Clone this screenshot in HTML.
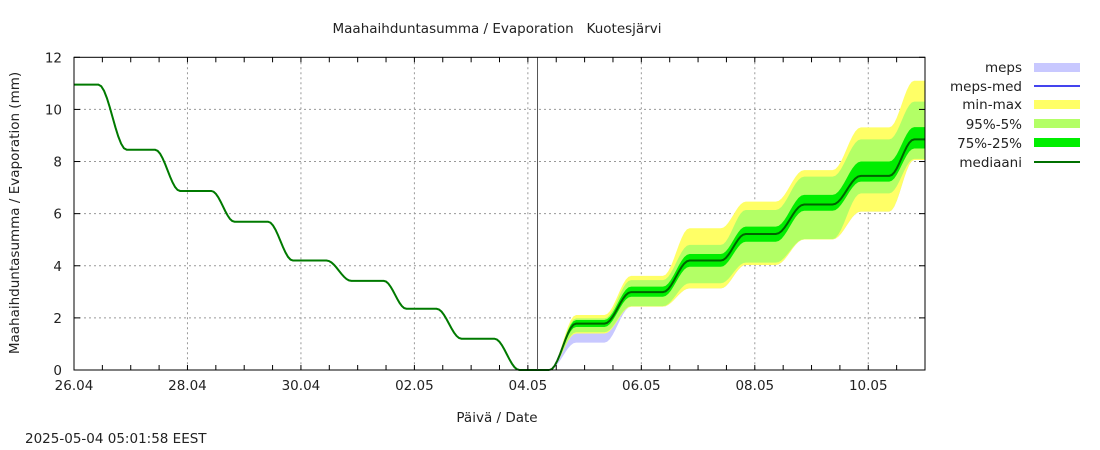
<!DOCTYPE html>
<html><head><meta charset="utf-8"><style>
body{margin:0;background:#fff;}
svg{display:block;font-family:"DejaVu Sans","Liberation Sans",sans-serif;}
</style></head><body>
<svg id="chart" width="1100" height="450" viewBox="0 0 1100 450">
<text x="497" y="33" font-size="13.5" text-anchor="middle" fill="#222" style="white-space:pre">Maahaihduntasumma / Evaporation&#160;&#160;&#160;Kuotesjärvi</text>
<text transform="translate(19,213) rotate(-90)" font-size="13.5" text-anchor="middle" fill="#222">Maahaihduntasumma / Evaporation (mm)</text>
<text x="497" y="422" font-size="13.5" text-anchor="middle" fill="#222">Päivä / Date</text>
<text x="25" y="443" font-size="13.5" fill="#222">2025-05-04 05:01:58 EEST</text>
<g id="grid"></g>
<g id="bands"></g>
<g id="lines"></g>
<g id="axes"></g>
<g id="legend">
<text x="1022" y="72" font-size="13.5" text-anchor="end" fill="#222">meps</text>
<rect x="1034" y="63" width="46" height="9" fill="#c8c8ff"/>
<text x="1022" y="91" font-size="13.5" text-anchor="end" fill="#222">meps-med</text>
<line x1="1034" y1="86" x2="1080" y2="86" stroke="#4444ee" stroke-width="2"/>
<text x="1022" y="109" font-size="13.5" text-anchor="end" fill="#222">min-max</text>
<rect x="1034" y="100" width="46" height="9" fill="#ffff66"/>
<text x="1022" y="129" font-size="13.5" text-anchor="end" fill="#222">95%-5%</text>
<rect x="1034" y="119" width="46" height="9" fill="#b3ff66"/>
<text x="1022" y="148" font-size="13.5" text-anchor="end" fill="#222">75%-25%</text>
<rect x="1034" y="138" width="46" height="9" fill="#00ee00"/>
<text x="1022" y="167" font-size="13.5" text-anchor="end" fill="#222">mediaani</text>
<line x1="1034" y1="162" x2="1080" y2="162" stroke="#007000" stroke-width="2"/>
</g>
</svg>
<script>
const xTickLabels = ["26.04","28.04","30.04","02.05","04.05","06.05","08.05","10.05"];
const yTickLabels = [0,2,4,6,8,10,12];
const histDays = [0,0.43,0.93,1.43,1.87,2.42,2.83,3.42,3.86,4.45,4.89,5.46,5.86,6.39,6.83,7.41,7.85,8.38];
const histVals = [10.95,10.95,8.45,8.45,6.87,6.87,5.69,5.69,4.2,4.2,3.42,3.42,2.35,2.35,1.2,1.2,0,0];
const fcDays = [8.38,8.85,9.35,9.82,10.38,10.85,11.4,11.84,12.37,12.87,13.37,13.87,14.37,14.81,15];
const fcMed = [0,1.78,1.78,2.99,2.99,4.2,4.2,5.22,5.22,6.35,6.35,7.45,7.45,8.85,8.85];
const fcP75 = [0,1.92,1.92,3.2,3.2,4.45,4.45,5.5,5.5,6.72,6.72,8.0,8.0,9.32,9.32];
const fcP25 = [0,1.65,1.65,2.81,2.81,3.96,3.96,4.92,4.92,6.11,6.11,7.23,7.23,8.5,8.5];
const fcP95 = [0,1.98,1.98,3.45,3.45,4.8,4.8,6.14,6.14,7.42,7.42,8.85,8.85,10.3,10.3];
const fcP5 = [0,1.45,1.45,2.45,2.45,3.33,3.33,4.12,4.12,5.02,5.02,6.78,6.78,8.1,8.1];
const fcMax = [0,2.11,2.11,3.61,3.61,5.44,5.44,6.46,6.46,7.67,7.67,9.31,9.31,11.1,11.1];
const fcMin = [0,1.4,1.4,2.43,2.43,3.13,3.13,4.03,4.03,5.01,5.01,6.08,6.08,8.06,8.06];
const mepsLow = [0,1.05,1.05,2.43,2.43,3.13,3.13,4.03,4.03,5.01,5.01,6.08,6.08,8.06,8.06];
const nowDay = 8.17;

const X0=74,X1=925,Y0=370,Y1=57.3,DAYS=15,YMAX=12;
const sx=d=>X0+d*(X1-X0)/DAYS;
const sy=v=>Y0-v*(Y0-Y1)/YMAX;
const NS="http://www.w3.org/2000/svg";
function mk(tag,attrs,parent){const e=document.createElementNS(NS,tag);for(const k in attrs)e.setAttribute(k,attrs[k]);parent.appendChild(e);return e;}
function smoothPts(ds,vs){const p=[];for(let i=0;i<ds.length-1;i++){for(let j=0;j<10;j++){const t=j/10,s=(1-Math.cos(Math.PI*t))/2;p.push([sx(ds[i]+(ds[i+1]-ds[i])*t),sy(vs[i]+(vs[i+1]-vs[i])*s)]);}}p.push([sx(ds[ds.length-1]),sy(vs[vs.length-1])]);return p;}
const grid=document.getElementById('grid'),bands=document.getElementById('bands'),lines=document.getElementById('lines'),axes=document.getElementById('axes');
yTickLabels.forEach(v=>{
 if(v>0&&v<YMAX){const g=mk('line',{x1:X0,x2:X1,y1:sy(v),y2:sy(v),stroke:'#999','stroke-dasharray':'2,3'},grid);}
 const t=mk('text',{x:62,y:sy(v)+5,'font-size':13.5,'text-anchor':'end',fill:'#222'},axes);t.textContent=v;
 
 
 mk('line',{x1:X0,x2:X0+6,y1:sy(v),y2:sy(v),stroke:'#000'},axes);
 mk('line',{x1:X1,x2:X1-6,y1:sy(v),y2:sy(v),stroke:'#000'},axes);
});
xTickLabels.forEach((l,i)=>{
 const x=sx(i*2);
 if(i>0){const g=mk('line',{x1:x,x2:x,y1:Y1,y2:Y0,stroke:'#999','stroke-dasharray':'2,3'},grid);}
 const t=mk('text',{x:x,y:390,'font-size':13.5,'text-anchor':'middle',fill:'#222'},axes);t.textContent=l;
 
 
});
for(let h=1;h<DAYS*2;h++){const x=sx(h/2);mk('line',{x1:x,x2:x,y1:Y0,y2:Y0-5,stroke:'#000'},axes);mk('line',{x1:x,x2:x,y1:Y1,y2:Y1+5,stroke:'#000'},axes);}
function band(lo,hi,fill,name){const a=smoothPts(fcDays,hi),b=smoothPts(fcDays,lo).reverse();const p=mk('polygon',{points:a.concat(b).map(q=>q.join(',')).join(' '),fill:fill},bands);
 
 }
band(mepsLow,fcMed,'#c8c8ff','meps-band');
band(fcMin,fcMax,'#ffff66','min-max-band');
band(fcP5,fcP95,'#b3ff66','p95-p5-band');
band(fcP25,fcP75,'#00ee00','p75-p25-band');
const hp=mk('polyline',{points:smoothPts(histDays,histVals).map(q=>q.join(',')).join(' '),fill:'none',stroke:'#007a00','stroke-width':2},lines);


const fp=mk('polyline',{points:smoothPts(fcDays,fcMed).map(q=>q.join(',')).join(' '),fill:'none',stroke:'#006400','stroke-width':2},lines);


const nl=mk('line',{x1:sx(nowDay),x2:sx(nowDay),y1:Y1,y2:Y0,stroke:'#555','stroke-width':1},lines);


const fr=mk('rect',{x:X0,y:Y1,width:X1-X0,height:Y0-Y1,fill:'none',stroke:'#000','stroke-width':1},axes);


</script>
</body></html>
